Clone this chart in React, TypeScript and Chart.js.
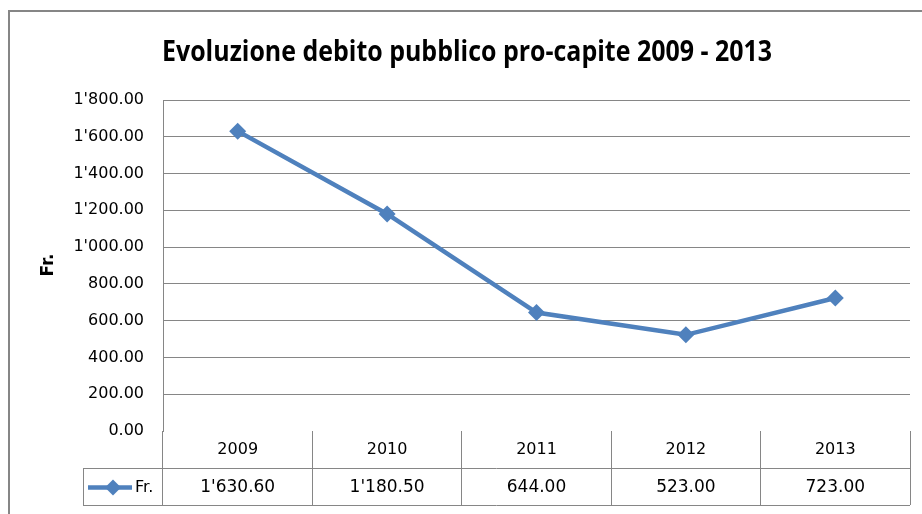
import React, { useEffect, useRef } from "react";
import { Chart, registerables } from "chart.js";

Chart.register(...registerables);

const TITLE = "Evoluzione debito pubblico pro-capite 2009 - 2013";
const Y_TITLE = "Fr.";
const SERIES_NAME = "Fr.";
const categories = ["2009", "2010", "2011", "2012", "2013"];
const values = [1630.6, 1180.5, 644.0, 523.0, 723.0];
const Y_MIN = 0;
const Y_MAX = 1800;
const Y_STEP = 200;

const BLUE = "#4F81BD";
const GRID = "#868686";
const TICK_FONT = "DejaVu Sans";
const TITLE_FONT = "Open Sans";

function fmt(v: number): string {
  const s = v.toFixed(2);
  const [i, d] = s.split(".");
  const withSep = i.replace(/\B(?=(\d{3})+(?!\d))/g, "'");
  return withSep + "." + d;
}

const decorPlugin = {
  id: "decor",
  afterDraw(chart: any) {
    const ctx = chart.ctx as CanvasRenderingContext2D;
    const area = chart.chartArea;
    const xs = chart.scales.x;
    ctx.save();
    // outer frame
    ctx.strokeStyle = GRID;
    ctx.lineWidth = 2;
    ctx.strokeRect(9, 11, 940, 540);
    // title (condensed horizontally to mimic Calibri)
    ctx.fillStyle = "#000";
    ctx.font = `bold 28px "${TITLE_FONT}"`;
    ctx.textAlign = "center";
    ctx.textBaseline = "middle";
    const w = ctx.measureText(TITLE).width;
    const targetW = 610;
    ctx.save();
    ctx.translate(467, 53);
    ctx.scale(targetW / w, 1);
    ctx.fillText(TITLE, 0, 0);
    ctx.restore();
    // y title
    ctx.save();
    ctx.translate(49, 265);
    ctx.rotate(-Math.PI / 2);
    ctx.font = `bold 17px "${TICK_FONT}"`;
    ctx.fillText(Y_TITLE, 0, 0);
    ctx.restore();
    // data table
    const rowTop = area.bottom + 37;
    const rowBot = area.bottom + 74;
    const legLeft = 83;
    ctx.strokeStyle = GRID;
    ctx.lineWidth = 1;
    ctx.beginPath();
    ctx.moveTo(legLeft, rowTop + 0.5);
    ctx.lineTo(area.right, rowTop + 0.5);
    ctx.moveTo(legLeft, rowBot + 0.5);
    ctx.lineTo(area.right, rowBot + 0.5);
    ctx.moveTo(legLeft + 0.5, rowTop);
    ctx.lineTo(legLeft + 0.5, rowBot);
    ctx.stroke();
    const midY = (rowTop + rowBot) / 2 + 1;
    ctx.font = `17px "${TICK_FONT}"`;
    ctx.fillStyle = "#000";
    ctx.textAlign = "center";
    values.forEach((v, i) => {
      ctx.fillText(fmt(v), xs.getPixelForValue(i), midY);
    });
    // legend key
    ctx.strokeStyle = BLUE;
    ctx.lineWidth = 4.5;
    ctx.beginPath();
    ctx.moveTo(88, midY);
    ctx.lineTo(132, midY);
    ctx.stroke();
    ctx.fillStyle = BLUE;
    ctx.beginPath();
    ctx.moveTo(113, midY - 8);
    ctx.lineTo(121, midY);
    ctx.lineTo(113, midY + 8);
    ctx.lineTo(105, midY);
    ctx.closePath();
    ctx.fill();
    ctx.fillStyle = "#000";
    ctx.textAlign = "left";
    ctx.font = `16px "${TICK_FONT}"`;
    ctx.fillText(SERIES_NAME, 135, midY);
    ctx.restore();
  },
};

export default function App() {
  const ref = useRef<HTMLCanvasElement>(null);
  useEffect(() => {
    const canvas = ref.current!;
    const chart = new Chart(canvas, {
      type: "line",
      data: {
        labels: categories,
        datasets: [
          {
            label: SERIES_NAME,
            data: values,
            borderColor: BLUE,
            backgroundColor: BLUE,
            borderWidth: 4.5,
            pointStyle: "rectRot",
            pointRadius: 8.5,
            pointBorderWidth: 0,
            pointBackgroundColor: BLUE,
            tension: 0,
          },
        ],
      },
      options: {
        responsive: false,
        animation: false,
        devicePixelRatio: 1,
        layout: { padding: { top: 100, left: 0, right: 12, bottom: 9 } },
        plugins: {
          legend: { display: false },
          title: { display: false },
          tooltip: { enabled: false },
        },
        scales: {
          x: {
            type: "category",
            offset: true,
            afterFit: (s: any) => {
              s.height = 74;
            },
            border: { display: false },
            grid: {
              offset: true,
              drawOnChartArea: false,
              drawTicks: true,
              tickLength: 74,
              color: GRID,
              lineWidth: 1,
            },
            ticks: {
              color: "#000",
              font: { family: TICK_FONT, size: 16 },
              padding: -65,
              maxRotation: 0,
            },
          },
          y: {
            min: Y_MIN,
            max: Y_MAX,
            afterFit: (s: any) => {
              s.width = 163;
            },
            border: { display: true, color: GRID, width: 1 },
            grid: {
              drawTicks: false,
              color: (c: any) => (c.tick && c.tick.value === 0 ? "rgba(0,0,0,0)" : GRID),
              lineWidth: 1,
            },
            ticks: {
              stepSize: Y_STEP,
              color: "#000",
              font: { family: TICK_FONT, size: 16 },
              padding: 19,
              callback: (v: any) => fmt(Number(v)),
            },
          },
        },
      },
      plugins: [decorPlugin],
    });
    return () => chart.destroy();
  }, []);
  return (
    <canvas
      ref={ref}
      width={922}
      height={514}
      style={{ position: "absolute", left: 0, top: 0, width: 922, height: 514, background: "#fff" }}
    />
  );
}
